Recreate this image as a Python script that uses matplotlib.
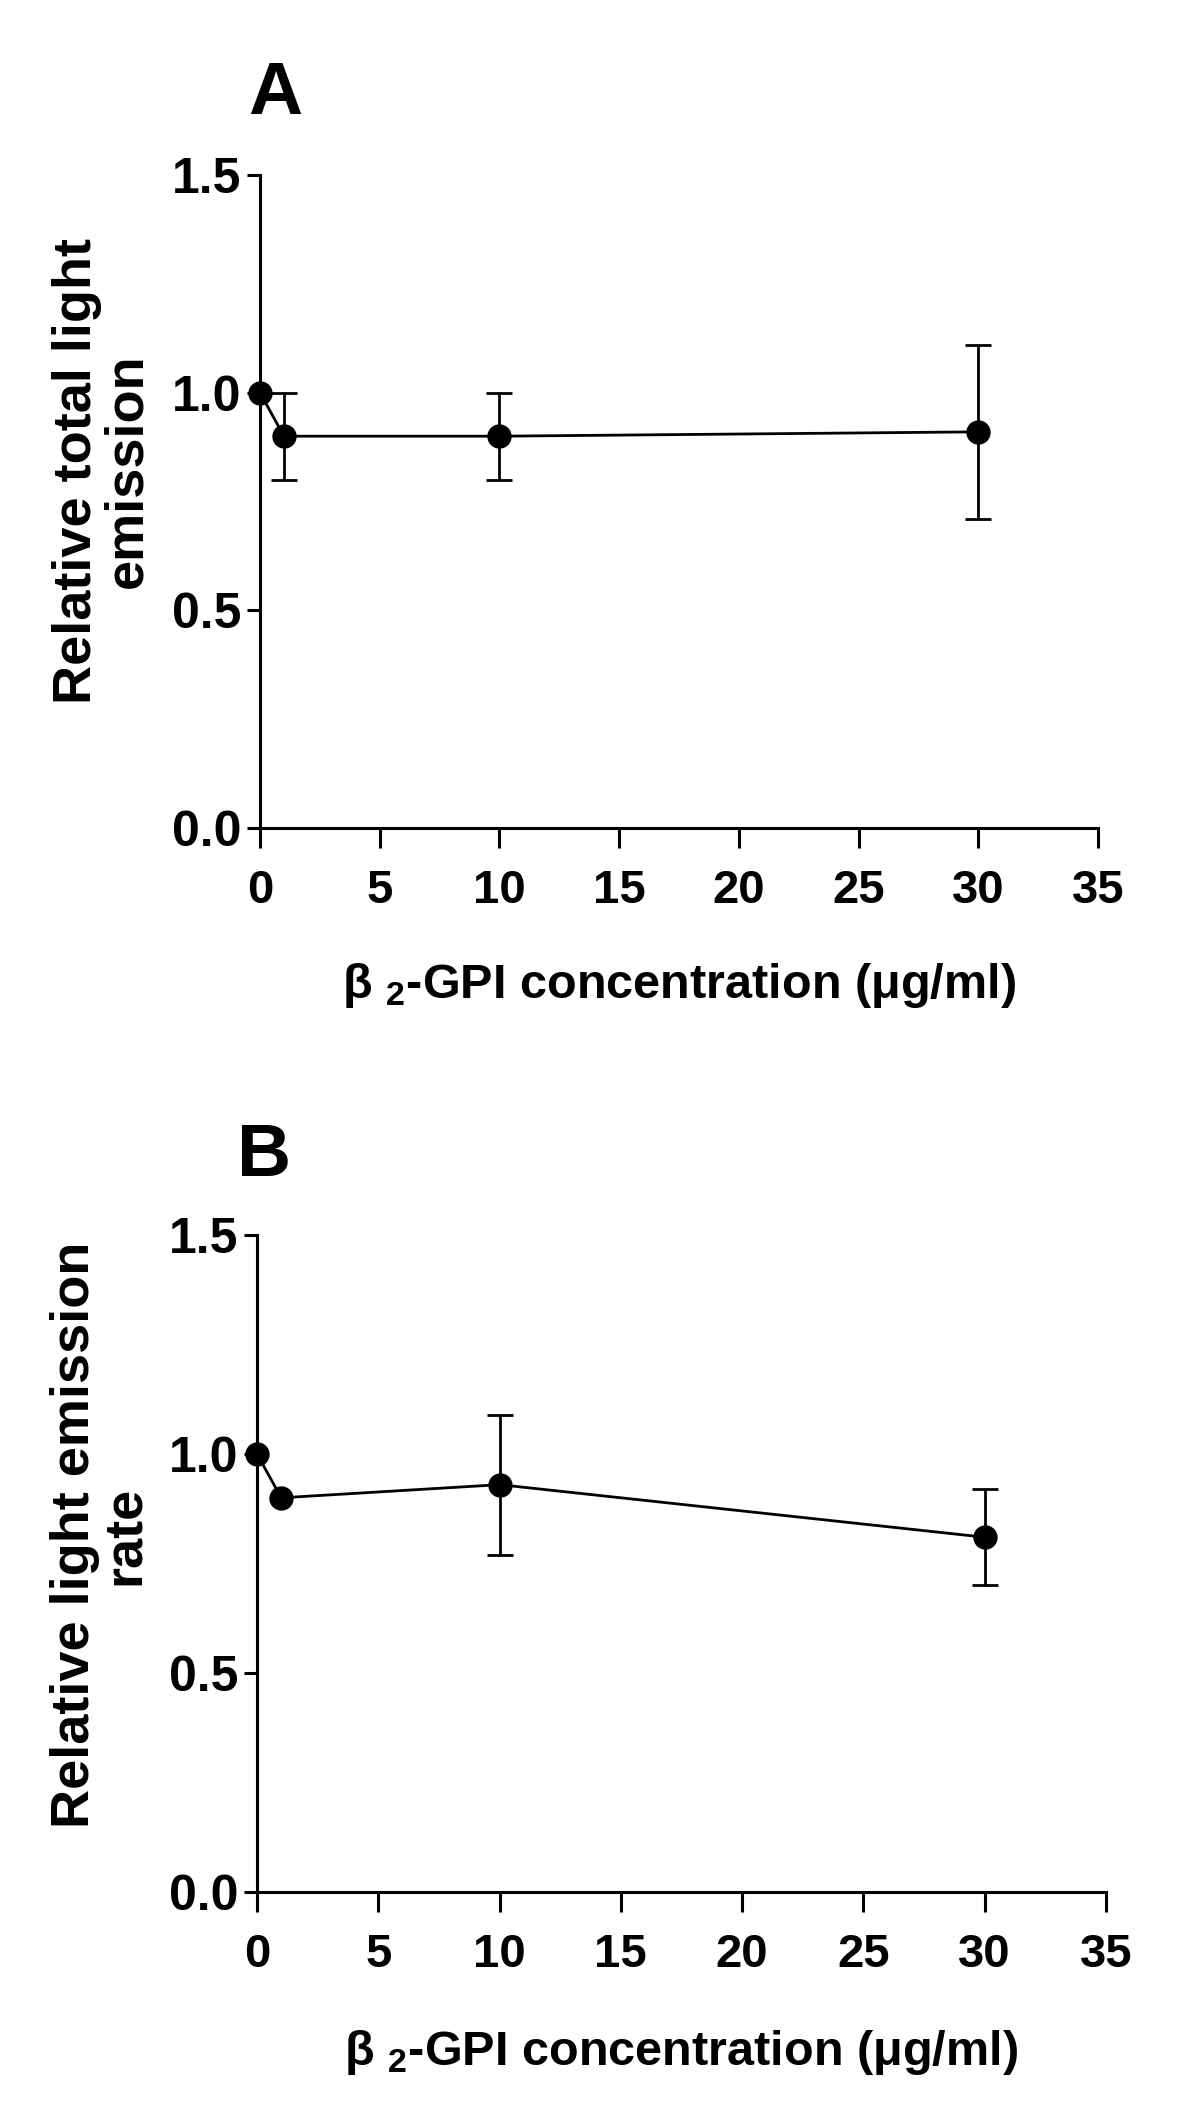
import matplotlib
matplotlib.use("Agg")
import matplotlib.pyplot as plt

## data
conc = [0, 1, 10, 30]

total_mean = [1.00, 0.90, 0.90, 0.91]
total_err = [0.00, 0.10, 0.10, 0.20]

rate_mean = [1.00, 0.90, 0.93, 0.81]
rate_err = [0.00, 0.00, 0.16, 0.11]

x_ticks = [0, 5, 10, 15, 20, 25, 30, 35]
y_ticks = [0.0, 0.5, 1.0, 1.5]
y_tick_labels = ["0.0", "0.5", "1.0", "1.5"]

x_label = "β $_{2}$-GPI concentration (μg/ml)"
ylabel_a = "Relative total light\nemission"
ylabel_b = "Relative light emission\nrate"

plt.rcParams['mathtext.default'] = 'regular'

NARROW = ['Liberation Sans Narrow', 'Liberation Sans', 'DejaVu Sans']
WIDE = ['Liberation Sans', 'DejaVu Sans']

W, H = 1200, 2116
fig = plt.figure(figsize=(W / 100, H / 100), dpi=100)


def px(x, y):
    return x / W, 1 - y / H


def draw_panel(rect, means, errs, ylabel, ylab_pos, letter, letter_pos, xlab_y):

    left, top, right, bottom = rect
    ax = fig.add_axes([left / W, 1 - bottom / H, (right - left) / W, (bottom - top) / H])

    ax.plot(conc, means, color='black', lw=2.0, marker='o', ms=16.5,
            mfc='black', mec='black', clip_on=False, zorder=3)

    xe = [c for c, e in zip(conc, errs) if e > 0]
    ye = [m for m, e in zip(means, errs) if e > 0]
    ee = [e for e in errs if e > 0]
    ax.errorbar(xe, ye, yerr=ee, fmt='none', ecolor='black',
                elinewidth=2.0, capsize=9.5, capthick=2.0, clip_on=False, zorder=2)

    ax.set_xlim(0, 35)
    ax.set_ylim(0, 1.5)

    for s in ['top', 'right']:
        ax.spines[s].set_visible(False)
    for s in ['left', 'bottom']:
        ax.spines[s].set_linewidth(2.2)

    ax.set_xticks(x_ticks)
    ax.set_xticklabels([str(t) for t in x_ticks], family=NARROW, fontstretch='condensed',
                       fontweight='bold', fontsize=34)
    ax.set_yticks(y_ticks)
    ax.set_yticklabels(y_tick_labels, family=WIDE, fontweight='bold', fontsize=36)

    ax.tick_params(axis='x', direction='out', length=14.4, width=2.2, pad=15)
    ax.tick_params(axis='y', direction='out', length=9.4, width=2.2, pad=4)

    fx, fy = px(*ylab_pos)
    fig.text(fx, fy, ylabel, rotation=90, ha='center', va='center',
             multialignment='center', linespacing=1.0,
             family=WIDE, fontweight='bold', fontsize=39)

    lx, ly = px(*letter_pos)
    fig.text(lx, ly, letter, ha='center', va='baseline',
             family=WIDE, fontweight='bold', fontsize=54)

    cx = (left + right) / 2
    fig.text(cx / W, 1 - xlab_y / H, x_label, ha='center', va='baseline',
             family=NARROW, fontstretch='condensed', fontweight='bold', fontsize=35)

    return ax


draw_panel((260, 175, 1098, 828), total_mean, total_err, ylabel_a,
           (102, 471), "A", (275, 114), 998)

draw_panel((257, 1235, 1106, 1892), rate_mean, rate_err, ylabel_b,
           (100, 1535), "B", (264, 1176), 2065)

fig.savefig("out.png", dpi=100, facecolor='white')
